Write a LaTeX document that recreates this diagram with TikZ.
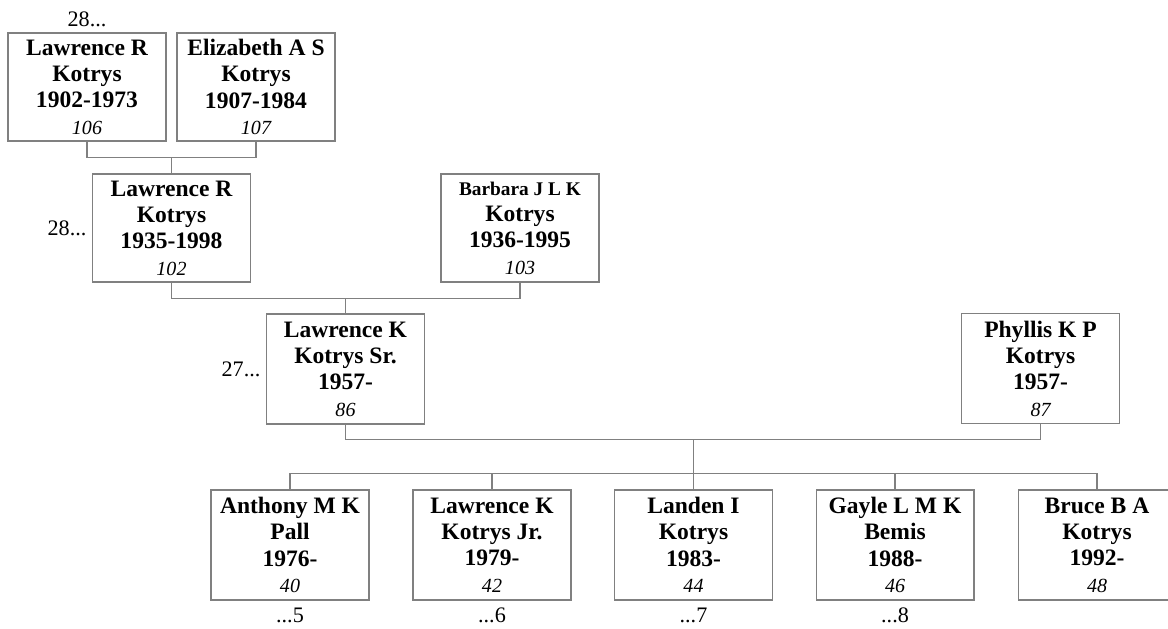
\documentclass[tikz,border=0pt]{standalone}
\usepackage{fontspec}
\setmainfont{Liberation Serif}
\usetikzlibrary{positioning}
\tikzset{
    person/.style={draw=black!50,line width=0.6pt,minimum width=3.16cm,minimum height=2.16cm,inner sep=0pt,align=center,font=\fontsize{13.4}{15}\selectfont\bfseries},
    link/.style={draw=black!50,line width=0.6pt},
    gen/.style={inner sep=1pt,font=\fontsize{12.6}{15}\selectfont},
}
\newcommand{\idno}[1]{{\mdseries\itshape\fontsize{11.4}{13}\selectfont #1}}
\begin{document}
\begin{tikzpicture}[x=0.02cm,y=-0.02cm]
                \useasboundingbox (0,0) rectangle (1168,628);
                % grandparents
                \node[person] (p106) at (87,87) {Lawrence R\\Kotrys\\1902-1973\\\idno{106}};
                \node[person] (p107) at (256,87) {Elizabeth A S\\Kotrys\\1907-1984\\\idno{107}};
                \node[gen,above=2pt of p106] (g106) {28...};
                % parents
                \node[person] (p102) at (171.5,228) {Lawrence R\\Kotrys\\1935-1998\\\idno{102}};
                \node[person] (p103) at (520,228) {{\fontsize{11}{13}\selectfont Barbara J L K}\\Kotrys\\1936-1995\\\idno{103}};
                \node[gen,left=2pt of p102] (g102) {28...};
                % couple
                \node[person,minimum height=2.2cm] (p86) at (345.5,369) {Lawrence K\\Kotrys Sr.\\1957-\\\idno{86}};
                \node[person,minimum height=2.2cm] (p87) at (1040.5,368.5) {Phyllis K P\\Kotrys\\1957-\\\idno{87}};
                \node[gen,left=2pt of p86] (g86) {27...};
                % children
                \node[person,minimum height=2.2cm] (c40) at (290,545) {Anthony M K\\Pall\\1976-\\\idno{40}};
                \node[person,minimum height=2.2cm] (c42) at (492,545) {Lawrence K\\Kotrys Jr.\\1979-\\\idno{42}};
                \node[person,minimum height=2.2cm] (c44) at (693.5,545) {Landen I\\Kotrys\\1983-\\\idno{44}};
                \node[person,minimum height=2.2cm] (c46) at (895,545) {Gayle L M K\\Bemis\\1988-\\\idno{46}};
                \node[person,minimum height=2.2cm] (c48) at (1097,545) {Bruce B A\\Kotrys\\1992-\\\idno{48}};
                \node[gen,below=3pt of c40] (g40) {...5};
                \node[gen,below=3pt of c42] (g42) {...6};
                \node[gen,below=3pt of c44] (g44) {...7};
                \node[gen,below=3pt of c46] (g46) {...8};
                % connectors
                \draw[link] (p106.south) -- ++(0,16) coordinate (j1) -| (p107.south);
                \draw[link] (j1 -| p102.north) -- (p102.north);
                \draw[link] (p102.south) -- ++(0,16) coordinate (j2) -| (p103.south);
                \draw[link] (j2 -| p86.north) -- (p86.north);
                \draw[link] (p86.south) -- ++(0,15) coordinate (j3) -| (p87.south);
                \draw[link] (j3 -| c44.north) -- (c44.north);
                \draw[link] (c40.north) -- ++(0,-16) -| (c48.north);
                \draw[link] (c42.north) -- ++(0,-16);
                \draw[link] (c46.north) -- ++(0,-16);
            \end{tikzpicture}
\end{document}
